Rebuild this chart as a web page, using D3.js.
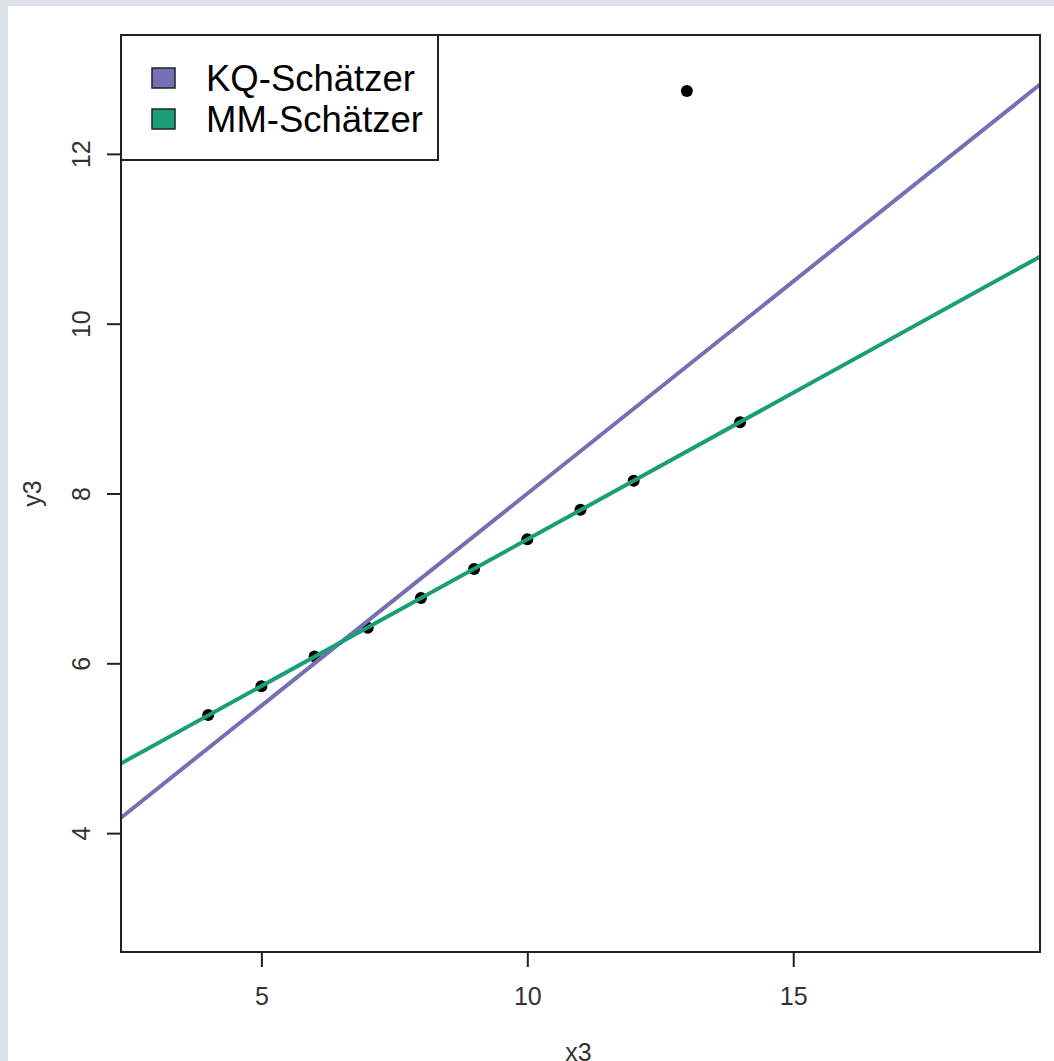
<!DOCTYPE html>
<html><head><meta charset="utf-8">
<script src="https://cdn.jsdelivr.net/npm/d3@7"></script>
<style>body{margin:0;background:#dfe3e8;}svg{display:block;}text{font-family:"Liberation Sans",Arial,sans-serif;}</style>
</head><body>
<svg id="c" width="1054" height="1061"></svg>
<script>
const x3 = [10, 8, 13, 9, 11, 14, 6, 4, 12, 7, 5];
const y3 = [7.46, 6.77, 12.74, 7.11, 7.81, 8.84, 6.08, 5.39, 8.15, 6.42, 5.73];
const fitNames = ["KQ-Schätzer", "MM-Schätzer"];
const fitIntercepts = [3.0025, 4.0056];
const fitSlopes = [0.4997, 0.3454];
const fitColors = ["#7570b3", "#1b9e77"];
const xTicks = [5, 10, 15];
const yTicks = [4, 6, 8, 10, 12];
const xLim = [3, 19], yLim = [3, 13];

const svg = d3.select("#c");
svg.append("rect").attr("x",8).attr("y",6).attr("width",1046).attr("height",1055).attr("fill","#fff");

const L=121, R=1040, T=35, B=952;
const padX=(xLim[1]-xLim[0])*0.04, padY=(yLim[1]-yLim[0])*0.04;
const x = d3.scaleLinear().domain([xLim[0]-padX, xLim[1]+padX]).range([L,R]);
const y = d3.scaleLinear().domain([yLim[0]-padY, yLim[1]+padY]).range([B,T]);

svg.append("clipPath").attr("id","pc").append("rect").attr("x",L).attr("y",T).attr("width",R-L).attr("height",B-T);

const g = svg.append("g").attr("clip-path","url(#pc)");
g.selectAll("circle").data(x3.map((d,i)=>[d,y3[i]])).join("circle")
  .attr("cx",d=>x(d[0])).attr("cy",d=>y(d[1])).attr("r",6).attr("fill","#000");
const xd = x.domain();
fitNames.forEach((n,i)=>{
  g.append("line").attr("x1",x(xd[0])).attr("x2",x(xd[1]))
   .attr("y1",y(fitIntercepts[i]+fitSlopes[i]*xd[0])).attr("y2",y(fitIntercepts[i]+fitSlopes[i]*xd[1]))
   .attr("stroke",fitColors[i]).attr("stroke-width",4);
});

// axes
const ax = svg.append("g").attr("transform",`translate(0,${B})`)
  .call(d3.axisBottom(x).tickValues(xTicks).tickSize(15).tickPadding(20).tickFormat(d3.format("d")));
ax.select(".domain").remove();
ax.selectAll("line").attr("stroke","#222").attr("stroke-width",2);
ax.selectAll("text").attr("font-size",25).attr("fill","#333").attr("font-family","Liberation Sans, Arial, sans-serif");

const ay = svg.append("g").attr("transform",`translate(${L},0)`)
  .call(d3.axisLeft(y).tickValues(yTicks).tickSize(14).tickFormat(d3.format("d")));
ay.select(".domain").remove();
ay.selectAll("line").attr("stroke","#222").attr("stroke-width",2);
ay.selectAll(".tick text").attr("font-size",25).attr("fill","#333").attr("font-family","Liberation Sans, Arial, sans-serif")
  .attr("x",0).attr("y",0).attr("dy",0).attr("text-anchor","middle")
  .attr("transform","translate(-38,0) rotate(-90)")
  .attr("dominant-baseline","middle");

// box
svg.append("rect").attr("x",L).attr("y",T).attr("width",R-L).attr("height",B-T)
  .attr("fill","none").attr("stroke","#222").attr("stroke-width",2);

// labels
svg.append("text").attr("x",(L+R)/2-2).attr("y",1061).attr("text-anchor","middle").attr("font-size",25).attr("fill","#333").text("x3");
svg.append("text").attr("transform",`translate(41,${(T+B)/2}) rotate(-90)`).attr("text-anchor","middle").attr("font-size",25).attr("fill","#333").text("y3");

// legend
const lg = svg.append("g");
lg.append("rect").attr("x",L).attr("y",T).attr("width",438-L).attr("height",160-T).attr("fill","#fff").attr("stroke","#222").attr("stroke-width",2);
fitNames.forEach((n,i)=>{
  const cy = 78 + i*41;
  lg.append("rect").attr("x",152).attr("y",cy-10).attr("width",23).attr("height",20).attr("fill",fitColors[i]).attr("stroke","#222").attr("stroke-width",1.5);
  lg.append("text").attr("x",206).attr("y",cy+13).attr("font-size",36.5).attr("fill","#000").text(n);
});
</script>
</body></html>
